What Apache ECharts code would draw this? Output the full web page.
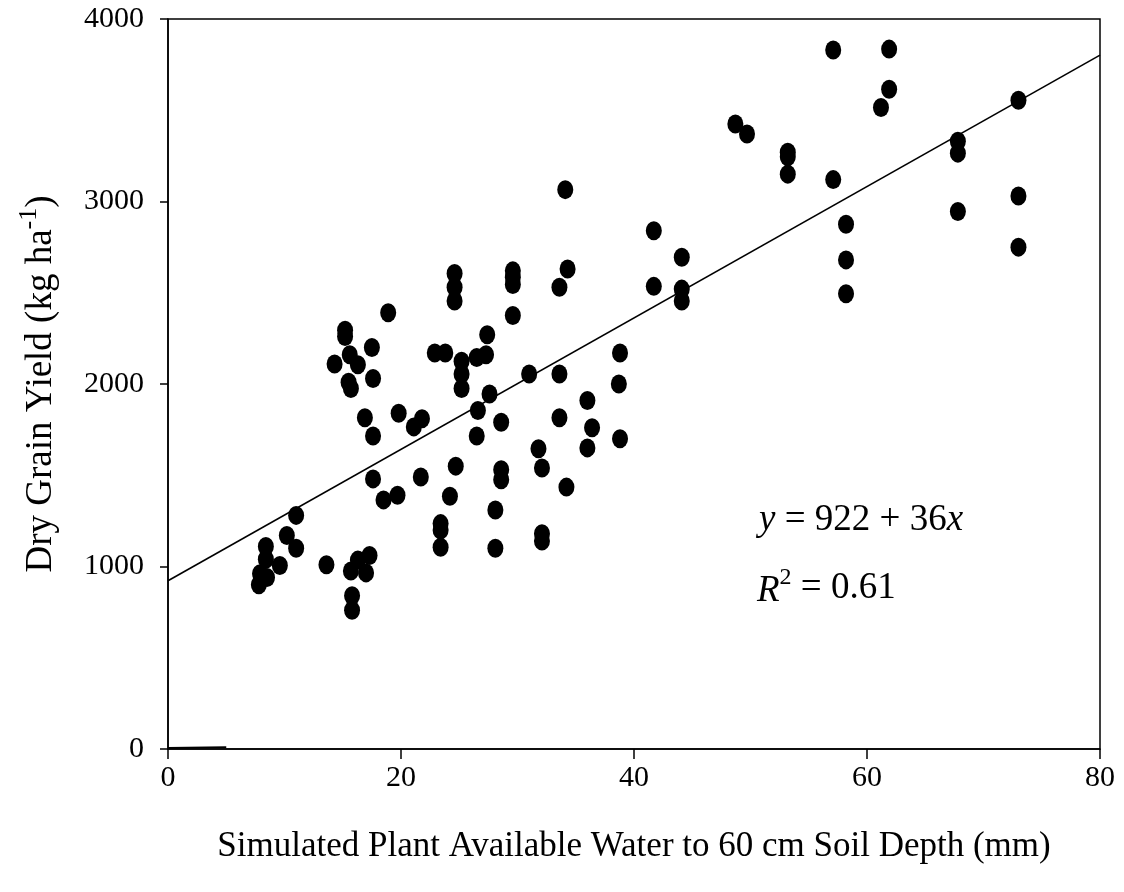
<!DOCTYPE html>
<html>
<head>
<meta charset="utf-8">
<script src="https://cdn.jsdelivr.net/npm/echarts@6/dist/echarts.min.js"></script>
<style>
  html, body { margin: 0; padding: 0; background: #fff; }
  #chart { width: 1124px; height: 892px; }
</style>
</head>
<body>
<div id="chart"></div>
<script>
// Simulated plant available water to 60 cm depth (mm)
const waterMm = [
  7.8, 7.9, 8.5, 8.4, 8.4, 9.6, 10.2, 11.0, 11.0, 13.6,
  15.7, 16.3, 17.3, 17.0, 15.8, 15.8, 14.3, 15.2, 15.2, 15.6,
  16.3, 17.5, 15.5, 15.7, 17.6, 18.9, 16.9, 19.8, 21.8, 21.1,
  17.6, 17.6, 21.7, 18.5, 19.7, 24.6, 24.6, 24.6, 22.9, 23.8,
  25.2, 26.5, 27.3, 27.4, 25.2, 25.2, 27.6, 29.6, 29.6, 29.6,
  29.6, 31.0, 26.6, 28.6, 26.5, 24.7, 28.6, 28.6, 24.2, 28.1,
  23.4, 23.4, 23.4, 28.1, 32.1, 32.1, 31.8, 32.1, 33.6, 33.6,
  34.2, 34.3, 33.6, 34.1, 38.8, 38.7, 38.8, 36.0, 36.4, 36.0,
  41.7, 41.7, 44.1, 44.1, 44.1, 48.7, 49.7, 53.2, 53.2, 53.2,
  57.1, 57.1, 58.2, 58.2, 58.2, 61.2, 61.9, 61.9, 67.8, 67.8,
  67.8, 73.0, 73.0, 73.0
];

// Dry grain yield (kg/ha)
const yieldKg = [
  900, 960, 940, 1040, 1110, 1005, 1170, 1100, 1280, 1010,
  975, 1035, 1060, 965, 840, 760, 2110, 2295, 2260, 2160,
  2105, 2200, 2010, 1975, 2030, 2390, 1815, 1840, 1810, 1765,
  1715, 1480, 1490, 1365, 1390, 2605, 2530, 2455, 2170, 2170,
  2125, 2145, 2160, 2270, 2055, 1975, 1945, 2620, 2585, 2545,
  2375, 2055, 1855, 1790, 1715, 1550, 1530, 1475, 1385, 1310,
  1235, 1200, 1105, 1100, 1180, 1140, 1645, 1540, 2055, 1815,
  1435, 2630, 2530, 3065, 2170, 2000, 1700, 1910, 1760, 1650,
  2840, 2535, 2695, 2520, 2455, 3425, 3370, 3270, 3245, 3150,
  3830, 3120, 2875, 2680, 2495, 3515, 3615, 3835, 3330, 3265,
  2945, 3555, 3030, 2750
];

// Fitted regression: y = 922 + 36x, R^2 = 0.61
const fitIntercept = 922;
const fitSlope = 36;
const fitR2 = '0.61';
const fitRange = [0, 80];

// Short stray stroke along the baseline near the origin
const baseStroke = [[0, 6], [5, 10]];

const xTicks = [0, 20, 40, 60, 80];
const yTicks = [0, 1000, 2000, 3000, 4000];

const points = waterMm.map((w, i) => [w, yieldKg[i]]);
const fitLine = fitRange.map(x => [x, fitIntercept + fitSlope * x]);

const FONT = '"Liberation Serif", "Times New Roman", serif';

const chart = echarts.init(document.getElementById('chart'));
chart.setOption({
  animation: false,
  backgroundColor: '#ffffff',
  grid: {
    left: 168, right: 24, top: 19, bottom: 143,
    show: true, borderColor: '#000', borderWidth: 1.5, backgroundColor: 'transparent'
  },
  xAxis: {
    type: 'value',
    min: xTicks[0], max: xTicks[xTicks.length - 1], interval: xTicks[1] - xTicks[0],
    name: 'Simulated Plant Available Water to 60 cm Soil Depth (mm)',
    nameLocation: 'middle', nameGap: 80,
    nameTextStyle: { fontFamily: FONT, fontSize: 35, color: '#000' },
    axisLine: { lineStyle: { color: '#000', width: 1.5 } },
    axisTick: { show: true, inside: false, length: 10, lineStyle: { color: '#000', width: 1.5 } },
    axisLabel: { fontFamily: FONT, fontSize: 30, color: '#000', margin: 14, formatter: v => String(v) },
    splitLine: { show: false }
  },
  yAxis: {
    type: 'value',
    min: yTicks[0], max: yTicks[yTicks.length - 1], interval: yTicks[1] - yTicks[0],
    name: '{t|Dry Grain Yield (kg ha}{sup|-1}{t|)}',
    nameLocation: 'middle', nameGap: 108, nameRotate: 90,
    nameTextStyle: {
      fontFamily: FONT, fontSize: 37, color: '#000',
      rich: {
        t: { fontFamily: FONT, fontSize: 37, color: '#000', lineHeight: 44, verticalAlign: 'bottom' },
        sup: { fontFamily: FONT, fontSize: 26, color: '#000', lineHeight: 44, verticalAlign: 'top', padding: [0, 0, 16, 0] }
      }
    },
    axisLine: { lineStyle: { color: '#000', width: 1.5 } },
    axisTick: { show: true, inside: false, length: 8, lineStyle: { color: '#000', width: 1.5 } },
    axisLabel: { fontFamily: FONT, fontSize: 30, color: '#000', margin: 24, formatter: v => String(v) },
    splitLine: { show: false }
  },
  series: [
    {
      type: 'line',
      data: fitLine,
      symbol: 'none',
      lineStyle: { color: '#000', width: 1.6 },
      z: 3
    },
    {
      type: 'line',
      data: baseStroke,
      symbol: 'none',
      lineStyle: { color: '#000', width: 2 },
      z: 3
    },
    {
      type: 'scatter',
      data: points,
      symbol: 'circle',
      symbolSize: [16, 19],
      itemStyle: { color: '#000', opacity: 1 },
      z: 4
    }
  ],
  graphic: [
    {
      type: 'text', left: 759, top: 502,
      style: {
        text: '{i|y} = 922 + 36{i|x}',
        font: '37px ' + FONT, fill: '#000',
        rich: {
          i: { fontFamily: FONT, fontSize: 37, fontStyle: 'italic', fill: '#000' }
        }
      }
    },
    {
      type: 'text', left: 757, top: 566,
      style: {
        text: '{i|R}{sup|2} = ' + fitR2,
        font: '37px ' + FONT, fill: '#000',
        rich: {
          i: { fontFamily: FONT, fontSize: 37, fontStyle: 'italic', fill: '#000', lineHeight: 44, verticalAlign: 'bottom' },
          sup: { fontFamily: FONT, fontSize: 24, fill: '#000', lineHeight: 44, verticalAlign: 'top' }
        }
      }
    }
  ]
});
</script>
</body>
</html>
